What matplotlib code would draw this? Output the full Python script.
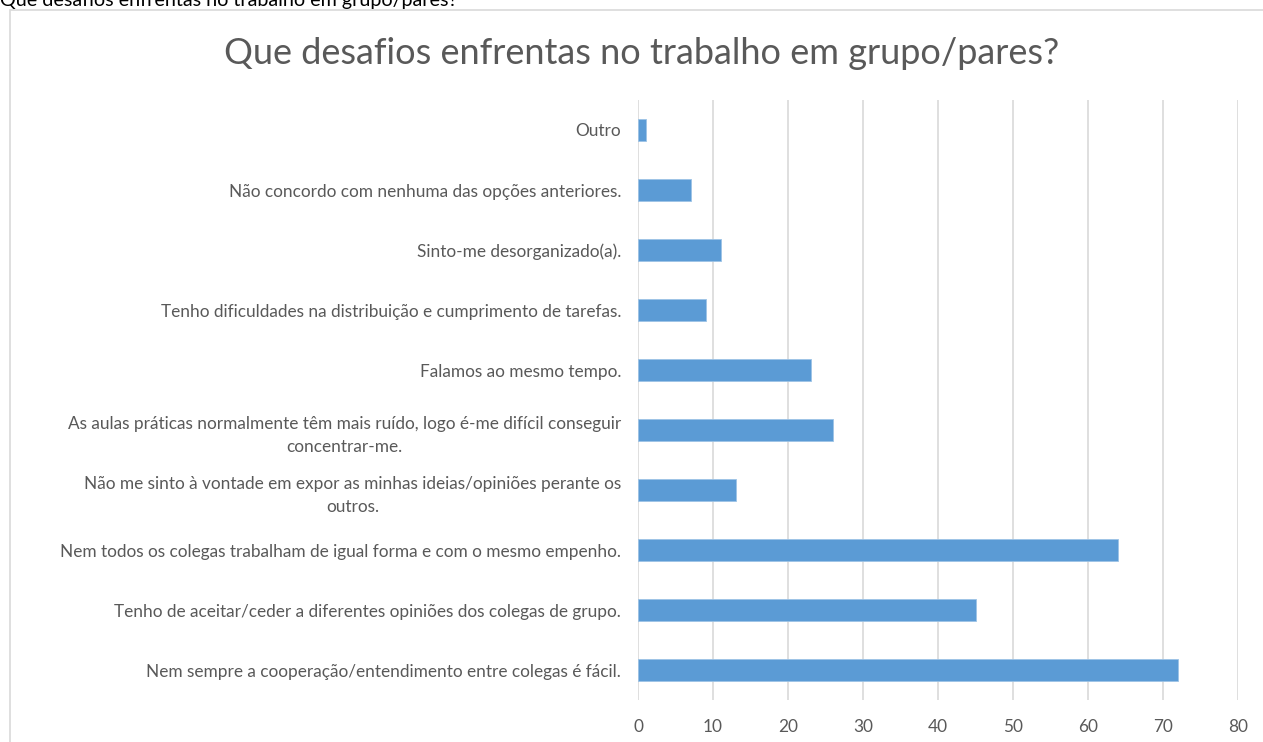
import matplotlib
matplotlib.use("Agg")
import matplotlib.pyplot as plt
from matplotlib.patches import Rectangle

categories = [
    "Nem sempre a cooperação/entendimento entre colegas é fácil.",
    "Tenho de aceitar/ceder a diferentes opiniões dos colegas de grupo.",
    "Nem todos os colegas trabalham de igual forma e com o mesmo empenho.",
    "Não me sinto à vontade em expor as minhas ideias/opiniões perante os\noutros.",
    "As aulas práticas normalmente têm mais ruído, logo é-me difícil conseguir\nconcentrar-me.",
    "Falamos ao mesmo tempo.",
    "Tenho dificuldades na distribuição e cumprimento de tarefas.",
    "Sinto-me desorganizado(a).",
    "Não concordo com nenhuma das opções anteriores.",
    "Outro",
]
values = [72, 45, 64, 13, 26, 23, 9, 11, 7, 1]
xticks = [0, 10, 20, 30, 40, 50, 60, 70, 80]
title = "Que desafios enfrentas no trabalho em grupo/pares?"

plt.rcParams['font.family'] = ['Lato', 'DejaVu Sans']

W, H = 1263, 742
fig = plt.figure(figsize=(W / 100, H / 100), dpi=100)

# chart frame (extends beyond right/bottom edges)
frame = Rectangle((10 / W, -0.05), 1.1, 1 - 10 / H + 0.05, transform=fig.transFigure,
                  fill=False, edgecolor='#d9d9d9', linewidth=1.2, zorder=0)
fig.add_artist(frame)

# caption above, cut by top edge
fig.text(0.0, 1 - 6 / H, title, ha='left', va='baseline', fontsize=14.2, color='black')

ax = fig.add_axes([638 / W, 1 - 700 / H, 600 / W, 600 / H])
y = list(range(len(categories)))
ax.barh(y, values, height=0.36, color='#5B9BD5', edgecolor='#9DC3E6', linewidth=0.6, zorder=3)
ax.set_ylim(-0.5, len(categories) - 0.5)
ax.set_xlim(0, 80)
ax.set_xticks(xticks)
ax.set_xticklabels([str(t) for t in xticks])
ax.set_yticks(y)
ax.set_yticklabels(categories, multialignment='center', linespacing=1.55)
ax.tick_params(axis='y', length=0, pad=12, labelsize=12.4, labelcolor='#595959')
ax.tick_params(axis='x', length=0, pad=14, labelsize=12.4, labelcolor='#595959')
ax.grid(axis='x', color='#d9d9d9', linewidth=1.2, zorder=0)
for s in ax.spines.values():
    s.set_visible(False)

fig.text(642 / W, 1 - 54 / H, title, ha='center', va='center', fontsize=26, color='#595959')

fig.savefig("out.png", dpi=100)
